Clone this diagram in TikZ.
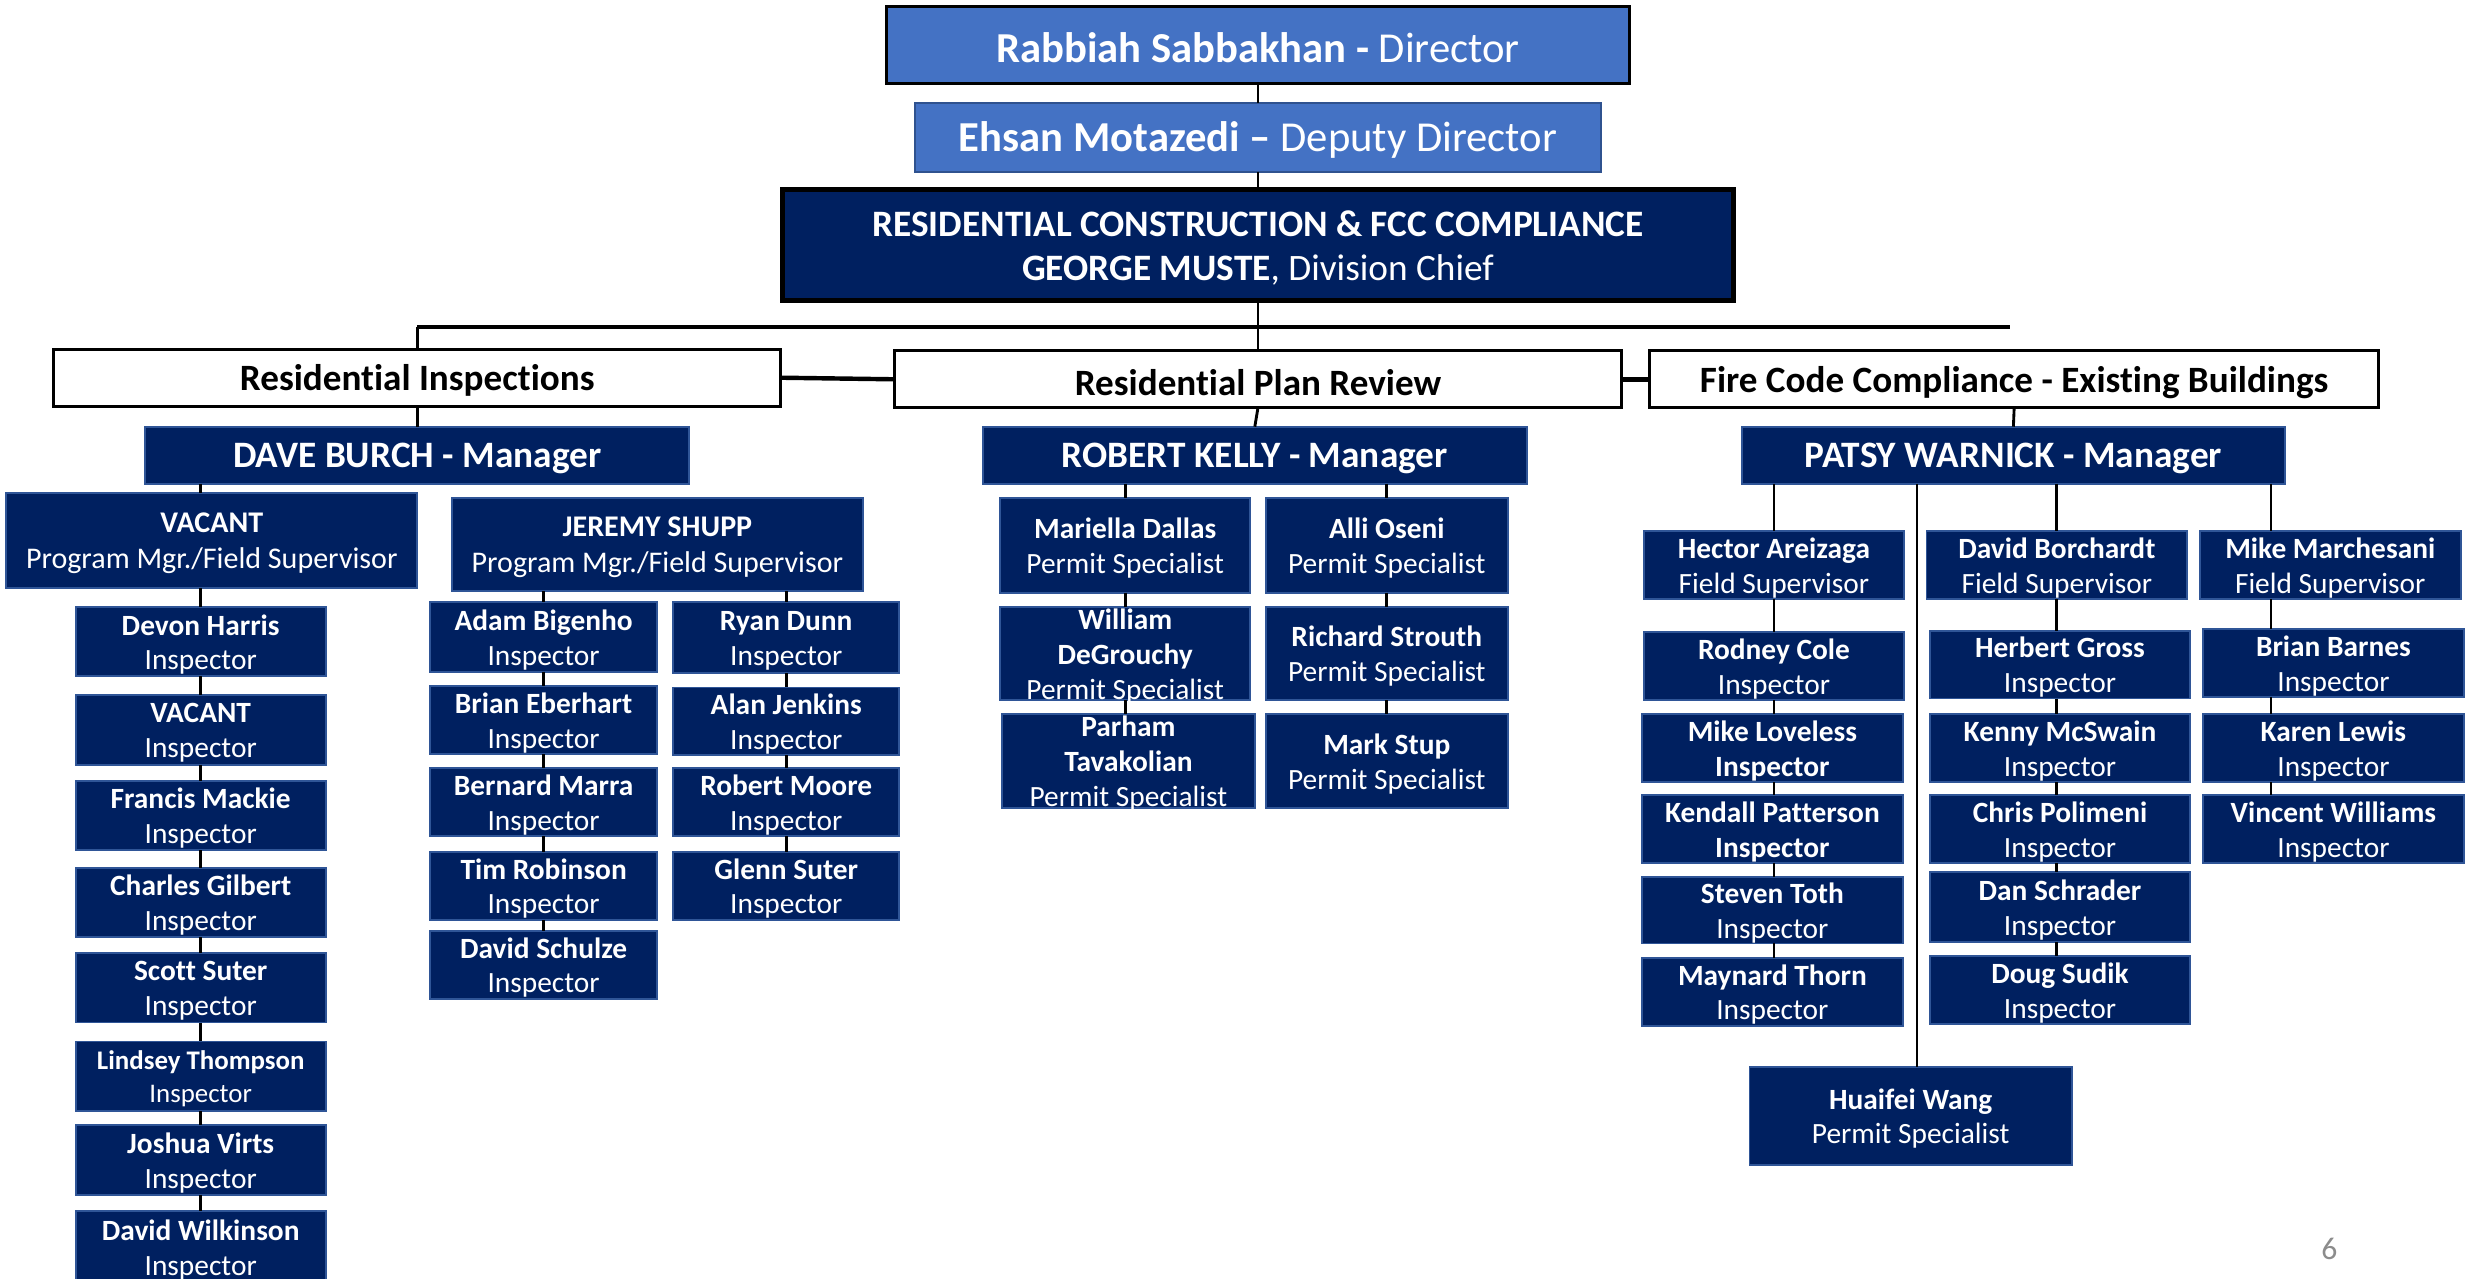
\documentclass[tikz,border=0pt]{standalone}
\usepackage{fontspec}
\setmainfont[Ligatures=NoCommon]{Carlito}
\definecolor{navy}{HTML}{002060}
\definecolor{navyb}{HTML}{2F5597}
\definecolor{mblue}{HTML}{4472C4}
\definecolor{mblueb}{HTML}{2F528F}
\definecolor{pggray}{HTML}{8C8C8C}
% name, x1, y1, x2, y2, box style, text style, text
\newcommand\bx[8]{%
  \node[#6, minimum width={(#4)-(#2)}, minimum height={(#5)-(#3)}] (#1) at ({((#2)+(#4))/2},{((#3)+(#5))/2}) {};
  \node[#7] (#1-t) at (#1.center) {#8};}
\tikzset{
  nv/.style={draw=navyb, fill=navy, line width=1.2pt, inner sep=0pt, outer sep=0pt},
  dirbox/.style={draw=black, fill=mblue, line width=2pt, inner sep=0pt, outer sep=0pt},
  depbox/.style={draw=mblueb, fill=mblue, line width=1.3pt, inner sep=0pt, outer sep=0pt},
  divbox/.style={draw=black, fill=navy, line width=3pt, inner sep=0pt, outer sep=0pt},
  secbox/.style={draw=black, fill=white, line width=1.8pt, inner sep=0pt, outer sep=0pt},
  tw/.style={text=white, align=center, inner sep=0pt, yshift=-1.8pt},
  tDir/.style={tw, font=\fontsize{27}{30}\selectfont},
  tDiv/.style={tw, font=\fontsize{23.6}{28}\selectfont},
  tSec/.style={align=center, inner sep=0pt, yshift=-1.8pt, text=black, font=\fontsize{23.5}{26}\selectfont\bfseries},
  tMgr/.style={tw, font=\fontsize{23.6}{26}\selectfont\bfseries},
  tPM/.style={tw, font=\fontsize{19}{23}\selectfont},
  tIn/.style={tw, font=\fontsize{18.6}{22}\selectfont},
  tSm/.style={tw, font=\fontsize{17}{21}\selectfont},
  conn/.style={line width=1.8pt, draw=black},
  thick conn/.style={line width=2.8pt, draw=black},
}
\begin{document}
\begin{tikzpicture}[x=1pt,y=-1pt]
\useasboundingbox[fill=white] (0,0) rectangle (1568,809);

% top
\bx{dir}{561}{4}{1031}{53}{dirbox}{tDir}{\textbf{Rabbiah Sabbakhan -} Director}
\bx{dep}{579}{65}{1013}{109}{depbox}{tDir}{\textbf{Ehsan Motazedi –} Deputy Director}
\bx{div}{495}{120}{1097}{190}{divbox}{tDiv}{\textbf{RESIDENTIAL CONSTRUCTION \& FCC COMPLIANCE}\\\textbf{GEORGE MUSTE}, Division Chief}

% sections
\bx{ri}{34}{221}{494}{257}{secbox}{tSec}{Residential Inspections}
\bx{pr}{566}{222}{1026}{258}{secbox}{tSec}{Residential Plan Review}
\bx{fc}{1044}{222}{1505}{258}{secbox}{tSec}{Fire Code Compliance - Existing Buildings}

% managers
\bx{db}{92}{270}{436}{306}{nv}{tMgr}{DAVE BURCH - Manager}
\bx{rk}{622}{270}{966}{306}{nv}{tMgr}{ROBERT KELLY - Manager}
\bx{pw}{1102}{270}{1446}{306}{nv}{tMgr}{PATSY WARNICK - Manager}

% Dave Burch subtree
\bx{vpm}{4}{312}{264}{372}{nv}{tPM}{\textbf{VACANT}\\Program Mgr./Field Supervisor}
\bx{js}{286}{315}{546}{374}{nv}{tPM}{\textbf{JEREMY SHUPP}\\Program Mgr./Field Supervisor}

\bx{dh}{48}{384}{206}{428}{nv}{tIn}{\textbf{Devon Harris}\\Inspector}
\bx{vi}{48}{440}{206}{484}{nv}{tIn}{\textbf{VACANT}\\Inspector}
\bx{fm}{48}{494}{206}{538}{nv}{tIn}{\textbf{Francis Mackie}\\Inspector}
\bx{cg}{48}{549}{206}{593}{nv}{tIn}{\textbf{Charles Gilbert}\\Inspector}
\bx{ss}{48}{603}{206}{647}{nv}{tIn}{\textbf{Scott Suter}\\Inspector}
\bx{lt}{48}{659}{206}{703}{nv}{tSm}{\textbf{Lindsey Thompson}\\Inspector}
\bx{jv}{48}{712}{206}{756}{nv}{tIn}{\textbf{Joshua Virts}\\Inspector}
\bx{dw}{48}{766}{206}{812}{nv}{tIn}{\textbf{David Wilkinson}\\Inspector}

\bx{ab}{272}{381}{416}{425}{nv}{tIn}{\textbf{Adam Bigenho}\\Inspector}
\bx{be}{272}{434}{416}{477}{nv}{tIn}{\textbf{Brian Eberhart}\\Inspector}
\bx{bm}{272}{486}{416}{529}{nv}{tIn}{\textbf{Bernard Marra}\\Inspector}
\bx{tr}{272}{539}{416}{582}{nv}{tIn}{\textbf{Tim Robinson}\\Inspector}
\bx{ds}{272}{589}{416}{632}{nv}{tIn}{\textbf{David Schulze}\\Inspector}
\bx{rd}{426}{381}{569}{426}{nv}{tIn}{\textbf{Ryan Dunn}\\Inspector}
\bx{aj}{426}{435}{569}{478}{nv}{tIn}{\textbf{Alan Jenkins}\\Inspector}
\bx{rm}{426}{486}{569}{529}{nv}{tIn}{\textbf{Robert Moore}\\Inspector}
\bx{gs}{426}{539}{569}{582}{nv}{tIn}{\textbf{Glenn Suter}\\Inspector}

% Robert Kelly subtree
\bx{md}{633}{315}{791}{375}{nv}{tIn}{\textbf{Mariella Dallas}\\Permit Specialist}
\bx{ao}{801}{315}{954}{375}{nv}{tIn}{\textbf{Alli Oseni}\\Permit Specialist}
\bx{wd}{633}{384}{791}{443}{nv}{tIn}{\textbf{William}\\\textbf{DeGrouchy}\\Permit Specialist}
\bx{rs}{801}{384}{954}{443}{nv}{tIn}{\textbf{Richard Strouth}\\Permit Specialist}
\bx{pt}{634}{452}{794}{511}{nv}{tIn}{\textbf{Parham}\\\textbf{Tavakolian}\\Permit Specialist}
\bx{ms}{801}{452}{954}{511}{nv}{tIn}{\textbf{Mark Stup}\\Permit Specialist}

% Patsy Warnick subtree
\bx{ha}{1040}{336}{1205}{379}{nv}{tIn}{\textbf{Hector Areizaga}\\Field Supervisor}
\bx{dbo}{1219}{336}{1384}{379}{nv}{tIn}{\textbf{David Borchardt}\\Field Supervisor}
\bx{mm}{1392}{336}{1557}{379}{nv}{tIn}{\textbf{Mike Marchesani}\\Field Supervisor}

\bx{rc}{1040}{400}{1205}{443}{nv}{tIn}{\textbf{Rodney Cole}\\Inspector}
\bx{ml}{1039}{452}{1204}{495}{nv}{tIn}{\textbf{Mike Loveless}\\\textbf{Inspector}}
\bx{kp}{1039}{503}{1204}{546}{nv}{tIn}{\textbf{Kendall Patterson}\\\textbf{Inspector}}
\bx{st}{1039}{555}{1204}{597}{nv}{tIn}{\textbf{Steven Toth}\\Inspector}
\bx{mt}{1039}{606}{1204}{649}{nv}{tIn}{\textbf{Maynard Thorn}\\Inspector}

\bx{hg}{1221}{399}{1386}{442}{nv}{tIn}{\textbf{Herbert Gross}\\Inspector}
\bx{km}{1221}{452}{1386}{495}{nv}{tIn}{\textbf{Kenny McSwain}\\Inspector}
\bx{cp}{1221}{503}{1386}{546}{nv}{tIn}{\textbf{Chris Polimeni}\\Inspector}
\bx{dsc}{1221}{552}{1386}{596}{nv}{tIn}{\textbf{Dan Schrader}\\Inspector}
\bx{dsu}{1221}{605}{1386}{648}{nv}{tIn}{\textbf{Doug Sudik}\\Inspector}

\bx{bb}{1394}{398}{1559}{441}{nv}{tIn}{\textbf{Brian Barnes}\\Inspector}
\bx{kl}{1394}{452}{1559}{495}{nv}{tIn}{\textbf{Karen Lewis}\\Inspector}
\bx{vw}{1394}{503}{1559}{546}{nv}{tIn}{\textbf{Vincent Williams}\\Inspector}

\bx{hw}{1107}{675}{1311}{737}{nv}{tIn}{\textbf{Huaifei Wang}\\Permit Specialist}

\node[text=pggray, inner sep=0pt, font=\fontsize{20}{22}\selectfont] (pg) at (1474,790) {6};

% connectors
\coordinate (hbL) at (264,207);
\coordinate (hbR) at (1272,207);
\coordinate (c3) at (1437,0);
\coordinate (c4) at (1213,0);
\draw[conn] (dir.south) -- (dep.north);
\draw[conn] (dep.south) -- (div.north);
\draw[conn] (div.south) -- (pr.north);
\draw[thick conn] (hbL) -- (hbR);
\draw[conn] (hbL) -- (ri.north);
\draw[thick conn] (ri.east) -- (pr.west);
\draw[thick conn] (pr.east) -- (fc.west);
\draw[conn] (ri.south) -- (db.north);
\draw[conn] (pr.south) -- (rk.north);
\draw[conn] (fc.south) -- (pw.north);

\draw[conn] (dh.north |- db.south) -- (dh.north |- vpm.north);
\draw[conn] (dh.north |- vpm.south) -- (dh.north);
\draw[conn] (dh.south) -- (vi.north);
\draw[conn] (vi.south) -- (fm.north);
\draw[conn] (fm.south) -- (cg.north);
\draw[conn] (cg.south) -- (ss.north);
\draw[conn] (ss.south) -- (lt.north);
\draw[conn] (lt.south) -- (jv.north);
\draw[conn] (jv.south) -- (dw.north);

\draw[conn] (ab.north |- js.south) -- (ab.north);
\draw[conn] (ab.south) -- (be.north);
\draw[conn] (be.south) -- (bm.north);
\draw[conn] (bm.south) -- (tr.north);
\draw[conn] (tr.south) -- (ds.north);
\draw[conn] (rd.north |- js.south) -- (rd.north);
\draw[conn] (rd.south) -- (aj.north);
\draw[conn] (aj.south) -- (rm.north);
\draw[conn] (rm.south) -- (gs.north);

\draw[conn] (md.north |- rk.south) -- (md.north);
\draw[conn] (md.south) -- (wd.north);
\draw[conn] (wd.south) -- (wd.south |- pt.north);
\draw[conn] (ao.north |- rk.south) -- (ao.north);
\draw[conn] (ao.south) -- (rs.north);
\draw[conn] (rs.south) -- (ms.north);

\draw[conn] (ha.north |- pw.south) -- (ha.north);
\draw[conn] (ha.south) -- (ha.south |- rc.north);
\draw[conn] (ha.south |- rc.south) -- (ha.south |- ml.north);
\draw[conn] (ha.south |- ml.south) -- (ha.south |- kp.north);
\draw[conn] (ha.south |- kp.south) -- (ha.south |- st.north);
\draw[conn] (ha.south |- st.south) -- (ha.south |- mt.north);
\draw[conn] (dbo.north |- pw.south) -- (dbo.north);
\draw[conn] (dbo.south) -- (dbo.south |- hg.north);
\draw[conn] (dbo.south |- hg.south) -- (dbo.south |- km.north);
\draw[conn] (dbo.south |- km.south) -- (dbo.south |- cp.north);
\draw[conn] (dbo.south |- cp.south) -- (dbo.south |- dsc.north);
\draw[conn] (dbo.south |- dsc.south) -- (dbo.south |- dsu.north);
\draw[conn] (c3 |- pw.south) -- (c3 |- mm.north);
\draw[conn] (c3 |- mm.south) -- (c3 |- bb.north);
\draw[conn] (c3 |- bb.south) -- (c3 |- kl.north);
\draw[conn] (c3 |- kl.south) -- (c3 |- vw.north);
\draw[conn] (c4 |- pw.south) -- (c4 |- hw.north);
\end{tikzpicture}
\end{document}
